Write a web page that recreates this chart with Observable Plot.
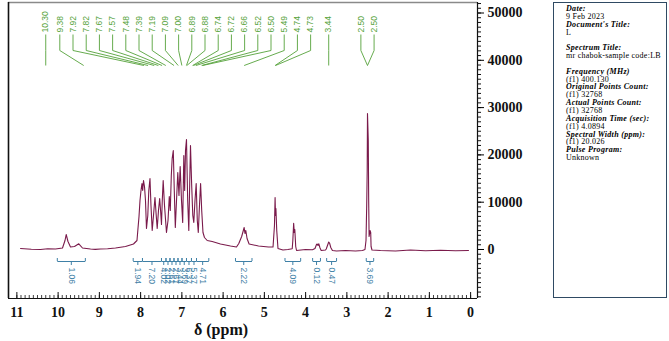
<!DOCTYPE html>
<html>
<head>
<meta charset="utf-8">
<script src="https://cdn.jsdelivr.net/npm/d3@7"></script>
<script src="https://cdn.jsdelivr.net/npm/@observablehq/plot@0.6"></script>
<style>
  body { margin: 0; background: #fff; }
  #wrap { position: relative; width: 669px; height: 341px; overflow: hidden; background: #fff; }
  #chart { position: absolute; left: 0; top: 0; }
  #info {
    position: absolute; left: 553px; top: 2px; width: 114px; height: 296px;
    box-sizing: border-box; border: 1.5px solid #2f4a63;
    padding: 2px 0 0 12px;
    font-family: "Liberation Serif", "Times New Roman", serif;
    font-size: 8px; line-height: 7.85px; letter-spacing: 0.25px; color: #000;
    white-space: nowrap;
  }
  #info .h { font-weight: bold; font-style: italic; letter-spacing: 0.3px; }
  #info .gap { height: 7.85px; }
</style>
</head>
<body>
<div id="wrap">
  <div id="chart"></div>
  <div id="info"></div>
</div>
<script>
// 1H NMR spectrum (400 MHz): chemical shift (ppm) vs. intensity
const shift = [
  10.912, 10.65, 10.427, 10.25, 10.064, 9.894, 9.833, 9.804, 9.761, 9.700,
  9.603, 9.499, 9.409, 9.215, 9.10, 8.973, 8.80, 8.609, 8.367, 8.173,
  8.088, 8.064, 8.039, 8.015, 7.991, 7.967, 7.950, 7.930, 7.906, 7.882,
  7.858, 7.826, 7.802, 7.773, 7.749, 7.719, 7.688, 7.652, 7.627, 7.598,
  7.567, 7.538, 7.513, 7.494, 7.475, 7.453, 7.421, 7.373, 7.336, 7.305,
  7.281, 7.256, 7.235, 7.208, 7.184, 7.159, 7.130, 7.099, 7.070, 7.041,
  7.009, 6.980, 6.953, 6.932, 6.912, 6.888, 6.859, 6.832, 6.810, 6.791,
  6.762, 6.735, 6.711, 6.682, 6.653, 6.626, 6.602, 6.573, 6.546, 6.519,
  6.488, 6.452, 6.386, 6.265, 6.064, 5.821, 5.676, 5.62, 5.55, 5.49,
  5.47, 5.45, 5.42, 5.37, 5.142, 4.900, 4.80, 4.79, 4.755, 4.74,
  4.73, 4.72, 4.70, 4.67, 4.55, 4.43, 4.325, 4.31, 4.29, 4.275,
  4.262, 4.24, 4.22, 4.003, 3.833, 3.773, 3.736, 3.719, 3.700, 3.680,
  3.651, 3.622, 3.518, 3.50, 3.47, 3.44, 3.42, 3.39, 3.35, 3.251,
  3.033, 2.791, 2.621, 2.561, 2.536, 2.519, 2.507, 2.500, 2.481, 2.471,
  2.461, 2.439, 2.422, 2.413, 2.391, 2.185, 1.821, 1.458, 1.094, 0.730,
  0.367, 0.052
];
const intensity = [
  211, 60, 0, 150, 106, 317, 1903, 3171, 1691, 529,
  634, 1205, 317, 106, 20, 106, 150, 317, 634, 1163,
  1903, 4439, 6976, 10359, 12473, 13952, 12473, 14587, 13318, 10359,
  4439, 7188, 12473, 15009, 9302, 4017, 7188, 10993, 7822, 4439,
  8245, 10781, 7822, 5285, 10359, 14587, 9302, 3594, 6131, 11204,
  8245, 15644, 19237, 20929, 12473, 4651, 10359, 16278, 11416, 17546,
  10359, 5708, 19872, 12473, 20929, 23254, 10359, 4017, 13952, 21986,
  13530, 7188, 5708, 10359, 13952, 6131, 3594, 9302, 13952, 8245,
  3594, 2537, 1903, 1691, 1163, 740, 529, 1268, 2748, 4651,
  3382, 4017, 2325, 1163, 740, 529, 529, 529, 5074, 10993,
  7188, 8667, 4017, 211, -106, 0, 148, 1903, 5560, 3594,
  4228, 634, -211, 0, -63, 211, 1057, 1163, 846, 1205,
  317, -211, -106, 106, 846, 1586, 1374, 423, -211, -317,
  -211, -317, -211, 0, 1903, 9302, 16700, 28750, 23043, 10359,
  2748, 4017, 3594, 634, -106, -211, -317, -106, -275, -169,
  -254, -211
];

// Picked peaks (ppm)
const peakShift = [
  10.30, 9.38, 7.92, 7.82, 7.67, 7.57, 7.48, 7.39, 7.19, 7.09, 7.00, 6.89,
  6.88, 6.74, 6.72, 6.66, 6.52, 6.50, 5.49, 4.74, 4.73, 3.44, 2.50, 2.50
];

// Integral regions (ppm) and their normalised areas
const integralFrom  = [10.02, 8.18, 7.955, 7.494, 7.385, 7.288, 7.191, 7.094, 6.997, 6.888, 6.767, 6.645, 5.70, 4.50, 3.83, 3.49, 2.53];
const integralTo    = [9.34, 7.955, 7.494, 7.385, 7.288, 7.191, 7.094, 6.997, 6.888, 6.767, 6.645, 6.347, 5.30, 4.12, 3.64, 3.25, 2.35];
const integralValue = [1.06, 1.94, 7.20, 4.02, 2.02, 2.61, 2.61, 3.44, 3.69, 6.37, 5.37, 4.71, 2.22, 4.09, 0.12, 0.47, 3.69];

// Axis ticks
const xTicks = d3.range(0, 12, 1);
const xMinorTicks = d3.range(0, 110.5, 1).map(d => d / 10);
const yTicks = d3.range(0, 50001, 10000);
const yMinorTicks = d3.range(-10000, 52001, 1000);

// Acquisition parameters panel
const infoHeads  = ["Date:", "Document's Title:", "Spectrum Title:", "Frequency (MHz)", "Original Points Count:", "Actual Points Count:", "Acquisition Time (sec):", "Spectral Width (ppm):", "Pulse Program:"];
const infoValues = ["9 Feb 2023", "L", "mr chabok-sample code:LB", "(f1) 400.130", "(f1) 32768", "(f1) 32768", "(f1) 4.0894", "(f1) 20.026", "Unknown"];

// ---- layout ----
const WIDTH = 669, HEIGHT = 341;
const MARGIN = {top: 2, right: 192, bottom: 43, left: 8};
const X_DOMAIN = [11.203, -0.167];
const Y_DOMAIN = [-10360, 52220];
const SPECTRUM = "#7a1a4b", GREEN = "#55a23a", BLUE = "#3f80a6";
const SERIF = "'Liberation Serif', 'Times New Roman', serif";
const SANS = "'Liberation Sans', Arial, sans-serif";

const sx = Plot.scale({x: {domain: X_DOMAIN, range: [MARGIN.left, WIDTH - MARGIN.right]}});
const sy = Plot.scale({y: {domain: Y_DOMAIN, range: [HEIGHT - MARGIN.bottom, MARGIN.top]}});
const atPx = px => sy.invert(px);   // vertical annotation levels given in pixels

// Spread labels a fixed gap apart while keeping them as close as possible
// (least squares) to their peaks.
function spread(xs, gap) {
  const clusters = [];
  for (const x of xs) {
    let c = {n: 1, sum: x};
    while (clusters.length) {
      const a = clusters[clusters.length - 1];
      if (a.sum / a.n + a.n * gap <= c.sum / c.n) break;
      clusters.pop();
      c = {n: a.n + c.n, sum: a.sum + c.sum - c.n * a.n * gap};
    }
    clusters.push(c);
  }
  const out = [];
  for (const c of clusters) {
    const left = c.sum / c.n;
    for (let k = 0; k < c.n; k++) out.push(left + k * gap);
  }
  return out;
}

const spectrum = shift.map((s, i) => ({shift: s, intensity: intensity[i]}));
const slotPx = spread(peakShift.map(p => sx.apply(p)), 13.2);
const peaks = peakShift.map((p, i) => ({shift: p, slot: sx.invert(slotPx[i]), text: p.toFixed(2)}));
const integrals = integralValue.map((v, i) => ({
  from: integralFrom[i], to: integralTo[i], mid: (integralFrom[i] + integralTo[i]) / 2, text: v.toFixed(2)
}));
const integralEnds = integrals.flatMap(d => [d.from, d.to]);

const Y_LABEL = atPx(32), Y_LEAD_TOP = atPx(34), Y_KNEE = atPx(50), Y_TIP = atPx(65);
const Y_INT = atPx(261), Y_INT_UP = atPx(258), Y_INT_DOWN = atPx(265), Y_INT_TEXT = atPx(267);
const FRAME_H = HEIGHT - MARGIN.top - MARGIN.bottom;

const plot = Plot.plot({
  width: WIDTH,
  height: HEIGHT,
  marginTop: MARGIN.top,
  marginRight: MARGIN.right,
  marginBottom: MARGIN.bottom,
  marginLeft: MARGIN.left,
  style: {background: "transparent", overflow: "visible"},
  x: {domain: X_DOMAIN},
  y: {domain: Y_DOMAIN},
  marks: [
    // frame
    Plot.ruleY([Y_DOMAIN[1]], {stroke: "#8a8a8a", strokeWidth: 1.5}),
    Plot.ruleX([X_DOMAIN[0]], {stroke: "#111", strokeWidth: 1.6}),
    Plot.ruleX([X_DOMAIN[1]], {stroke: "#111", strokeWidth: 1.2}),
    Plot.ruleY([Y_DOMAIN[0]], {stroke: "#111", strokeWidth: 1.2}),

    // x axis: inward ticks and bold labels
    Plot.ruleX(xMinorTicks, {x: d => d, insetTop: FRAME_H - 3, stroke: "#111", strokeWidth: 0.8}),
    Plot.ruleX(xTicks, {x: d => d, insetTop: FRAME_H - 6, stroke: "#111", strokeWidth: 1}),
    Plot.axisX(xTicks, {anchor: "bottom", tickSize: 0, tickPadding: 9, label: null,
      fontSize: 14, fontWeight: "bold", fontFamily: SERIF, fill: "#111", letterSpacing: 1.2}),
    Plot.text(["δ (ppm)"], {frameAnchor: "bottom", dy: 36, dx: -22, fontSize: 16, fontWeight: "bold",
      fontFamily: SERIF, fill: "#111", letterSpacing: 1.2}),

    // y axis on the right
    Plot.axisY(yMinorTicks, {anchor: "right", tickSize: 3, tickFormat: () => "", label: null, stroke: "#111"}),
    Plot.axisY(yTicks, {anchor: "right", tickSize: 6, tickPadding: 4, label: null, tickFormat: d => String(d),
      fontSize: 14, fontWeight: "bold", fontFamily: SERIF, fill: "#111", letterSpacing: 1.5}),

    // spectrum trace
    Plot.line(spectrum, {x: "shift", y: "intensity", stroke: SPECTRUM, strokeWidth: 1.1, strokeLinejoin: "round"}),

    // peak picking labels and leaders
    Plot.link(peaks, {x1: "slot", x2: "slot", y1: () => Y_LEAD_TOP, y2: () => Y_KNEE, stroke: GREEN, strokeWidth: 0.9}),
    Plot.link(peaks, {x1: "slot", x2: "shift", y1: () => Y_KNEE, y2: () => Y_TIP, stroke: GREEN, strokeWidth: 0.9}),
    Plot.text(peaks, {x: "slot", y: () => Y_LABEL, text: "text", rotate: -90, textAnchor: "start",
      fontSize: 8.5, fontFamily: SANS, fill: GREEN}),

    // integrals
    Plot.link(integrals, {x1: "from", x2: "to", y1: () => Y_INT, y2: () => Y_INT, stroke: BLUE, strokeWidth: 1}),
    Plot.ruleX(integralEnds, {x: d => d, y1: () => Y_INT, y2: () => Y_INT_UP, stroke: BLUE, strokeWidth: 1}),
    Plot.ruleX(integrals, {x: "mid", y1: () => Y_INT, y2: () => Y_INT_DOWN, stroke: BLUE, strokeWidth: 1}),
    Plot.text(integrals, {x: "mid", y: () => Y_INT_TEXT, text: "text", rotate: 90, textAnchor: "start",
      fontSize: 8.5, fontFamily: SANS, fill: BLUE})
  ]
});
document.getElementById("chart").append(plot);

// acquisition parameters panel
const info = d3.select("#info");
infoHeads.forEach((h, i) => {
  info.append("div").attr("class", "h").text(h);
  info.append("div").text(infoValues[i]);
  if (i === 1 || i === 2) info.append("div").attr("class", "gap");
});
</script>
</body>
</html>
